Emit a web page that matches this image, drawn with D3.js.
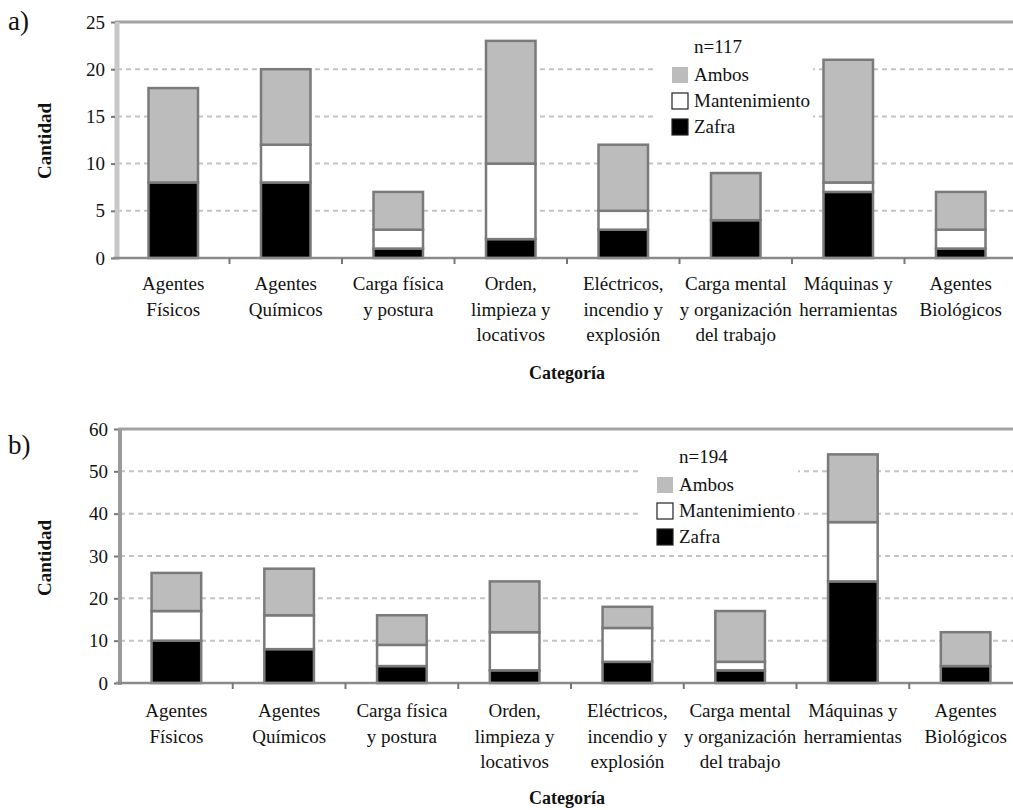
<!DOCTYPE html>
<html><head><meta charset="utf-8">
<script src="https://cdn.jsdelivr.net/npm/d3@7"></script>
</head><body style="margin:0">
<svg id="c" width="1013" height="810"></svg>
<script>
const categories = [
  ["Agentes","Físicos"],["Agentes","Químicos"],["Carga física","y postura"],
  ["Orden,","limpieza y","locativos"],["Eléctricos,","incendio y","explosión"],
  ["Carga mental","y organización","del trabajo"],["Máquinas y","herramientas"],["Agentes","Biológicos"]
];
const seriesNames = ["Zafra","Mantenimiento","Ambos"];
const zafraA = [8,8,1,2,3,4,7,1];
const mantA  = [0,4,2,8,2,0,1,2];
const ambosA = [10,8,4,13,7,5,13,4];
const zafraB = [10,8,4,3,5,3,24,4];
const mantB  = [7,8,5,9,8,2,14,0];
const ambosB = [9,11,7,12,5,12,16,8];
const ticksA = [0,5,10,15,20,25];
const ticksB = [0,10,20,30,40,50,60];
const nA = "n=117", nB = "n=194";
const colors = {Zafra:"#000000", Mantenimiento:"#ffffff", Ambos:"#bcbcbc"};
const FONT = '"Liberation Serif"';

const svg = d3.select("#c");
function txt(sel, size, bold){
  sel.style("font-family",FONT).style("font-size",size+"px").style("fill","#111");
  if(bold) sel.style("font-weight","bold");
  return sel;
}

function panel(o){
  const g = svg.append("g");
  const x = d3.scaleBand().domain(d3.range(categories.length)).range([o.x0,o.x1]).paddingInner(0.56).paddingOuter(0.28);
  const xb = d3.scaleBand().domain(d3.range(categories.length)).range([o.x0,o.x1]);
  const y = d3.scaleLinear().domain([0,o.max]).range([o.y0,o.y1]);
  g.selectAll(".gl").data(o.ticks.filter(t=>t>0 && t<o.max)).join("line")
    .attr("x1",o.x0).attr("x2",1013).attr("y1",d=>y(d)).attr("y2",d=>y(d))
    .attr("stroke","#c4c4c4").attr("stroke-width",2).attr("stroke-dasharray","5,4");
  g.append("rect").attr("x",o.lx-16).attr("y",o.ly-20).attr("width",158).attr("height",104).attr("fill","#fff");
  g.append("line").attr("x1",o.x0-2).attr("x2",1013).attr("y1",y(o.max)).attr("y2",y(o.max))
    .attr("stroke","#a2a2a2").attr("stroke-width",3);
  g.append("line").attr("x1",o.x0).attr("x2",o.x0).attr("y1",y(o.max)).attr("y2",o.y0+2)
    .attr("stroke",o.axisCol).attr("stroke-width",o.axisW);
  const ya = d3.axisLeft(y).tickValues(o.ticks).tickSize(4).tickPadding(6);
  const yg = g.append("g").attr("transform",`translate(${o.x0-2},0)`).call(ya);
  yg.attr("font-family",null).attr("font-size",null);
  yg.select(".domain").remove();
  yg.selectAll(".tick line").attr("stroke","#777").attr("stroke-width",2);
  txt(yg.selectAll(".tick text").attr("fill",null),19);
  const rows = categories.map((c,i)=>({i, Zafra:o.z[i], Mantenimiento:o.m[i], Ambos:o.a[i]}));
  const stack = d3.stack().keys(seriesNames)(rows);
  stack.forEach(s=>{
    g.selectAll(null).data(s.filter(d=>d[1]>d[0])).join("rect")
      .attr("x",d=>x(d.data.i)).attr("width",x.bandwidth())
      .attr("y",d=>y(d[1])).attr("height",d=>y(d[0])-y(d[1]))
      .attr("fill",colors[s.key]).attr("stroke","#7a7a7a").attr("stroke-width",2.5);
  });
  g.append("line").attr("x1",o.x0-4).attr("x2",1013).attr("y1",o.y0).attr("y2",o.y0)
    .attr("stroke","#8a8a8a").attr("stroke-width",2.5);
  g.selectAll(".xt").data(d3.range(1,categories.length+1)).join("line")
    .attr("x1",d=>o.x0+d*xb.step()).attr("x2",d=>o.x0+d*xb.step())
    .attr("y1",o.y0).attr("y2",o.y0+6).attr("stroke","#777").attr("stroke-width",2);
  categories.forEach((lines,i)=>{
    const cx = xb(i)+xb.bandwidth()/2;
    lines.forEach((l,k)=>txt(g.append("text").attr("text-anchor","middle")
      .attr("x",cx).attr("y",o.y0+o.lo+k*25.5),19).text(l));
  });
  txt(g.append("text").attr("x",567).attr("y",o.ty).attr("text-anchor","middle"),18,true).text("Categoría");
  txt(g.append("text").attr("transform",`translate(51,${o.cy}) rotate(-90)`).attr("text-anchor","middle"),19,true).text("Cantidad");
  txt(g.append("text").attr("x",8).attr("y",o.py),27).text(o.label);
  txt(g.append("text").attr("x",o.lx+23).attr("y",o.ly),19).text(o.n);
  ["Ambos","Mantenimiento","Zafra"].forEach((k,j)=>{
    const yy = o.ly+14+j*26;
    g.append("rect").attr("x",o.lx+1).attr("y",yy).attr("width",16).attr("height",16)
      .attr("fill",colors[k]).attr("stroke",k==="Ambos"?"none":"#222").attr("stroke-width",1.2);
    txt(g.append("text").attr("x",o.lx+23).attr("y",yy+14),19).text(k);
  });
}

panel({x0:117,x1:1017,y0:258,y1:22,max:25,ticks:ticksA,z:zafraA,m:mantA,a:ambosA,
  axisCol:"#c8c8c8",axisW:5,ty:379,cy:141,py:30,label:"a)",n:nA,lx:671,ly:53,lo:32});
panel({x0:120,x1:1022,y0:683,y1:429,max:60,ticks:ticksB,z:zafraB,m:mantB,a:ambosB,
  axisCol:"#9a9a9a",axisW:4,ty:804,cy:558,py:454,label:"b)",n:nB,lx:656,ly:463,lo:34});
</script></body></html>
